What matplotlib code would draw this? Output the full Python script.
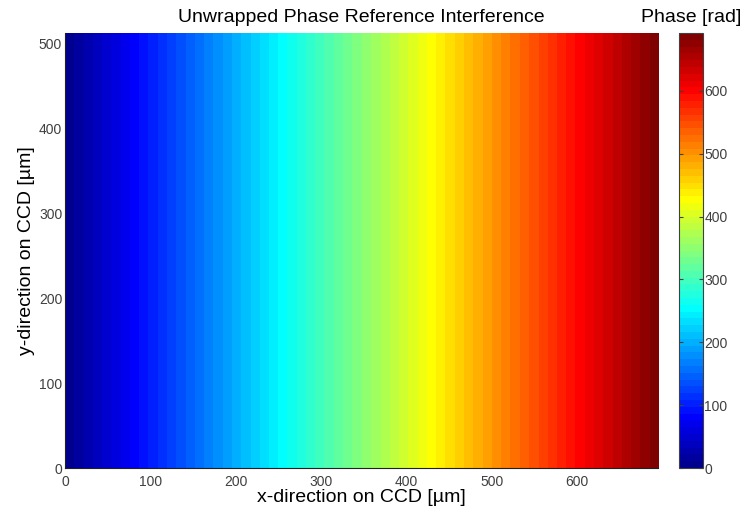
import numpy as np
import matplotlib
matplotlib.use('Agg')
import matplotlib.pyplot as plt
from matplotlib.colors import ListedColormap

plt.rcParams['font.family'] = ['Liberation Sans', 'DejaVu Sans']

# unwrapped phase along the CCD x-direction (constant in y)
x_samples_um = [0, 139, 278, 417, 556, 695]
phase_rad = [0, 138, 277, 415, 553, 692]
y_max_um = 512

x_ticks = [0, 100, 200, 300, 400, 500, 600]
y_ticks = [0, 100, 200, 300, 400, 500]
cbar_ticks = [0, 100, 200, 300, 400, 500, 600]


def matlab_jet(m=64):
    # same construction as MATLAB's jet(m)
    n = int(np.ceil(m / 4))
    u = np.concatenate([np.arange(1, n + 1) / n, np.ones(n - 1),
                        np.arange(n, 0, -1) / n])
    g = int(np.ceil(n / 2)) - (1 if m % 4 == 1 else 0) + np.arange(1, len(u) + 1)
    r = g + n
    b = g - n
    J = np.zeros((m, 3))
    for col, idx in ((0, r), (1, g), (2, b)):
        ok = (idx >= 1) & (idx <= m)
        J[idx[ok] - 1, col] = u[ok]
    return ListedColormap(J)


fig = plt.figure(figsize=(7.45, 5.18), dpi=100)
ax = fig.add_axes([0.0872, 0.0965, 0.796, 0.8398])
cax = fig.add_axes([0.9114, 0.0965, 0.0322, 0.8398])

cmap = matlab_jet(64)
step = x_samples_um[1] - x_samples_um[0]
row = np.array(phase_rad, dtype=float)[None, :]
im = ax.imshow(row, cmap=cmap, vmin=phase_rad[0], vmax=phase_rad[-1],
               extent=[x_samples_um[0] - step / 2, x_samples_um[-1] + step / 2,
                       0, y_max_um],
               aspect='auto', interpolation='bilinear',
               interpolation_stage='data', origin='lower')
ax.set_xlim(x_samples_um[0], x_samples_um[-1])
ax.set_ylim(0, y_max_um)

ax.set_xticks(x_ticks)
ax.set_yticks(y_ticks)
ax.tick_params(length=0, labelsize=10, colors='#404040')
ax.tick_params(axis='x', pad=5)
ax.tick_params(axis='y', pad=2)
for s in ['top', 'right']:
    ax.spines[s].set_visible(False)
for s in ['left', 'bottom']:
    ax.spines[s].set_linewidth(0.8)
    ax.spines[s].set_color('#202020')

ax.set_title('Unwrapped Phase Reference Interference', fontsize=14, pad=8)
ax.set_xlabel('x-direction on CCD [µm]', fontsize=14, labelpad=0)
ax.set_ylabel('y-direction on CCD [µm]', fontsize=14, labelpad=3)

cb = fig.colorbar(im, cax=cax)
cb.set_ticks(cbar_ticks)
cax.tick_params(labelsize=10, colors='#404040', direction='in', length=3,
                left=True, right=True, labelleft=False, labelright=True, pad=1)
cb.outline.set_linewidth(0.8)
cb.outline.set_edgecolor('#404040')
cax.set_title('Phase [rad]', fontsize=14, pad=8, loc='center')

fig.savefig('out.png', dpi=100)
